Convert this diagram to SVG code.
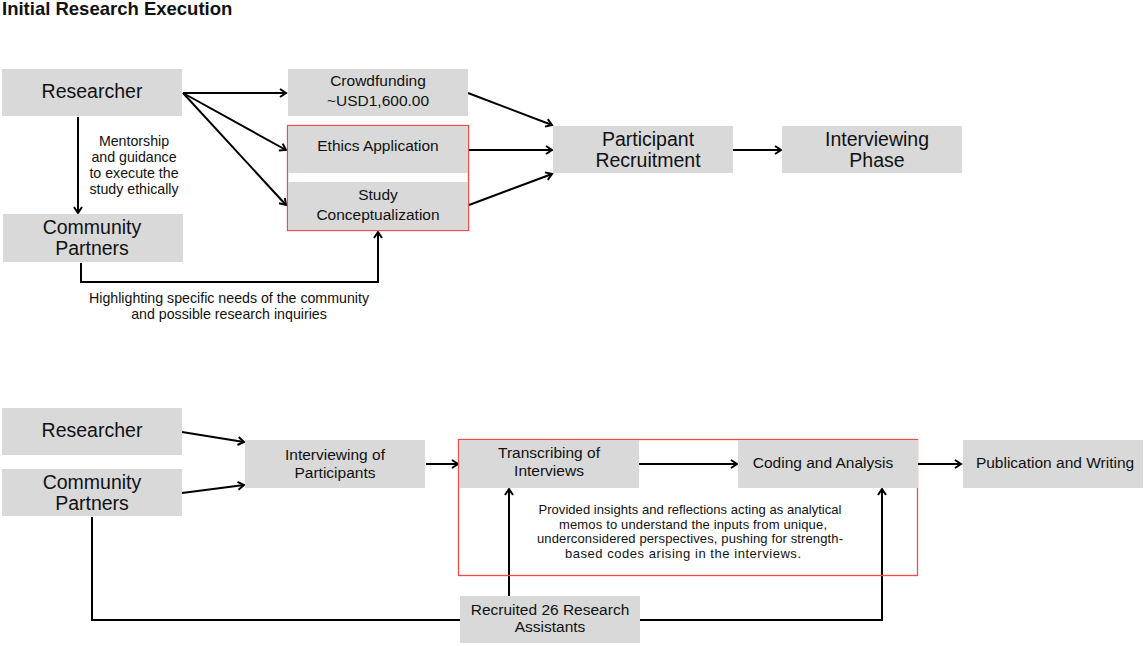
<svg xmlns="http://www.w3.org/2000/svg" width="1145" height="646" viewBox="0 0 1145 646">
<defs>
<marker id="arr" markerWidth="10" markerHeight="10" refX="8" refY="5" orient="auto" markerUnits="userSpaceOnUse">
<path d="M2,1 L8,5 L2,9" fill="none" stroke="#000" stroke-width="2"/>
</marker>
<style>
.box{fill:#d9d9d9}
.red{fill:none;stroke:#f24b4b;stroke-width:1.3}
.t{font-family:"Liberation Sans",Arial,sans-serif;fill:#111;text-anchor:middle}
.big{font-size:19.5px}
.mid{font-size:15.5px}
.sm{font-size:14.2px}
.xs{font-size:13px}
.c{fill:none;stroke:#000;stroke-width:2}
.a{marker-end:url(#arr)}
</style>
</defs>
<rect width="1145" height="646" fill="#fff"/>
<text x="2" y="15" style="font-family:'Liberation Sans',Arial,sans-serif;font-size:18.5px;font-weight:bold;fill:#111">Initial Research Execution</text>

<g id="connectors">
<line class="c a" x1="78" y1="117" x2="78" y2="213"/>
<line class="c a" x1="183" y1="93" x2="286" y2="93"/>
<line class="c a" x1="183" y1="93" x2="286" y2="150"/>
<line class="c a" x1="183" y1="93" x2="286" y2="205"/>
<line class="c a" x1="468" y1="93" x2="552" y2="125"/>
<line class="c a" x1="469" y1="150" x2="552" y2="150"/>
<line class="c a" x1="469" y1="205" x2="552" y2="174"/>
<line class="c a" x1="733" y1="150" x2="781" y2="150"/>
<polyline class="c a" points="81,263 81,282 378,282 378,232"/>

<line class="c a" x1="182" y1="432" x2="244" y2="442"/>
<line class="c a" x1="182" y1="493" x2="244" y2="485"/>
<line class="c a" x1="426" y1="464" x2="458" y2="464"/>
<line class="c a" x1="639" y1="464" x2="737" y2="464"/>
<line class="c a" x1="918" y1="464" x2="961" y2="464"/>
<polyline class="c" points="92,517 92,620 460,620"/>
<polyline class="c a" points="640,620 882,620 882,489"/>
<line class="c a" x1="509" y1="596" x2="509" y2="489"/>
</g>

<g id="researcher1"><rect class="box" x="2" y="69" width="180" height="47"/><text class="t big" x="92" y="98">Researcher</text></g>
<g id="community1"><rect class="box" x="3" y="214" width="180" height="48"/><text class="t big" x="92" y="234">Community</text><text class="t big" x="92" y="255">Partners</text></g>
<g id="mentorship-label"><text class="t sm" x="134" y="146">Mentorship</text><text class="t sm" x="134" y="162">and guidance</text><text class="t sm" x="134" y="178">to execute the</text><text class="t sm" x="134" y="194">study ethically</text></g>
<g id="crowdfunding"><rect class="box" x="288" y="69" width="180" height="47"/><text class="t mid" x="378" y="86">Crowdfunding</text><text class="t mid" x="378" y="106">~USD1,600.00</text></g>
<g id="ethics-group"><rect class="red" x="287.5" y="125.5" width="181" height="105"/></g>
<g id="ethics"><rect class="box" x="288" y="126" width="180" height="47"/><text class="t mid" x="378" y="151">Ethics Application</text></g>
<g id="study"><rect class="box" x="288" y="182" width="180" height="48"/><text class="t mid" x="378" y="200">Study</text><text class="t mid" x="378" y="220">Conceptualization</text></g>
<g id="participant-recruitment"><rect class="box" x="553" y="126" width="180" height="47"/><text class="t big" x="648" y="146">Participant</text><text class="t big" x="648" y="167">Recruitment</text></g>
<g id="interviewing-phase"><rect class="box" x="782" y="126" width="180" height="47"/><text class="t big" x="877" y="146">Interviewing</text><text class="t big" x="877" y="167">Phase</text></g>
<g id="highlight-label"><text class="t sm" x="229" y="303">Highlighting specific needs of the community</text><text class="t sm" x="229" y="319">and possible research inquiries</text></g>

<g id="researcher2"><rect class="box" x="2" y="408" width="180" height="47"/><text class="t big" x="92" y="437">Researcher</text></g>
<g id="community2"><rect class="box" x="2" y="469" width="180" height="47"/><text class="t big" x="92" y="489">Community</text><text class="t big" x="92" y="510">Partners</text></g>
<g id="interviewing-participants"><rect class="box" x="245" y="440" width="180" height="48"/><text class="t mid" x="335" y="460">Interviewing of</text><text class="t mid" x="335" y="478">Participants</text></g>
<g id="analysis-group"><rect class="red" x="458.5" y="439.5" width="459" height="136"/></g>
<g id="transcribing"><rect class="box" x="459" y="440" width="180" height="48"/><text class="t mid" x="549" y="458">Transcribing of</text><text class="t mid" x="549" y="476">Interviews</text></g>
<g id="coding"><rect class="box" x="738" y="440" width="180" height="48"/><text class="t mid" x="823" y="468">Coding and Analysis</text></g>
<g id="publication"><rect class="box" x="963" y="440" width="180" height="48"/><text class="t mid" x="1055" y="468">Publication and Writing</text></g>
<g id="insights-label"><text class="t xs" x="690" y="514" textLength="303">Provided insights and reflections acting as analytical</text><text class="t xs" x="693" y="529" textLength="268">memos to understand the inputs from unique,</text><text class="t xs" x="690" y="543" textLength="306">underconsidered perspectives, pushing for strength-</text><text class="t xs" x="683" y="558" textLength="236">based codes arising in the interviews.</text></g>
<g id="recruited"><rect class="box" x="460" y="596" width="180" height="47"/><text class="t mid" x="550" y="615">Recruited 26 Research</text><text class="t mid" x="550" y="632">Assistants</text></g>
</svg>
